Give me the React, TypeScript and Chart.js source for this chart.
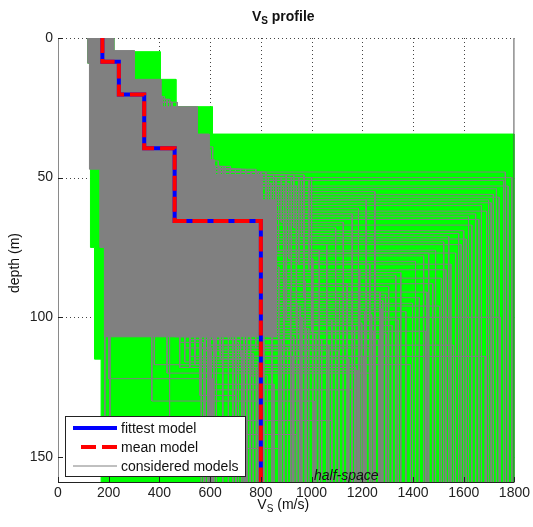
import { useEffect, useRef } from "react";
import { Chart, registerables } from "chart.js";

Chart.register(...registerables);

const FONT = "'Liberation Sans', Arial, Helvetica, sans-serif";

// ---- axes ----
const X_MIN = 0;
const X_MAX = 1800;
const X_STEP = 200;
const DEPTH_MIN = 0;
const DEPTH_MAX = 159;
const DEPTH_STEP = 50;

// ---- texts ----
const titleParts = [
  { t: "V", sub: false },
  { t: "S", sub: true },
  { t: " profile", sub: false },
];
const xTitleParts = [
  { t: "V", sub: false },
  { t: "S", sub: true },
  { t: " (m/s)", sub: false },
];
const yTitle = "depth (m)";
const legendLabels = ["fittest model", "mean model", "considered models"];
const halfSpaceLabel = "half-space";
const halfSpaceLabelVs = 1137;
const halfSpaceLabelDepth = 157;

// ---- fittest / mean models (layer velocities, layer bottom depths) ----
const fittestVs = [175, 240, 340, 460, 800];
const fittestDepths = [8.5, 20.2, 39.5, 65.5];
const meanVs = [175, 240, 340, 460, 800];
const meanDepths = [8.5, 20.2, 39.5, 65.5];

// ---- explored parameter envelope (green) ----
const envelopeVs = [117, 220, 220, 403, 403, 465, 465, 609, 609, 1800, 1800, 170, 170, 144, 144, 128, 128, 117];
const envelopeDepths = [0, 0, 4.9, 4.9, 14.8, 14.8, 24.6, 24.6, 34.4, 34.4, 159, 159, 115, 115, 75, 75, 9, 9];

// ---- densely overlapping considered models (grey core) ----
const coreVs = [117, 220, 220, 301, 301, 406, 406, 549, 549, 596, 596, 616, 616, 805, 805, 860, 860, 183, 183, 165, 165, 124, 124, 117];
const coreDepths = [0, 0, 4.5, 4.5, 14.8, 14.8, 24.6, 24.6, 34.4, 34.4, 43.6, 43.6, 49, 49, 58, 58, 107, 107, 75, 75, 47, 47, 9, 9];

// ---- considered models: [v1, d1, v2, d2, v3, d3, v4, d4, v5 (half-space)] ----
const consideredModels = [
  [150, 7, 220, 18, 330, 45, 560, 48, 1764],
  [170, 9, 250, 20, 360, 46, 620, 51, 1757],
  [140, 6, 200, 16, 300, 44, 480, 54, 1729],
  [190, 10, 270, 22, 420, 47, 700, 56, 1717],
  [160, 8, 230, 19, 340, 45, 540, 58, 1698],
  [180, 9, 260, 21, 380, 46, 660, 60, 1670],
  [135, 5, 190, 15, 280, 44, 450, 63, 1647],
  [200, 11, 280, 23, 450, 48, 760, 64, 1619],
  [155, 7, 215, 17, 320, 45, 520, 69, 1600],
  [175, 8, 245, 20, 370, 46, 640, 70, 1580],
  [145, 6, 205, 16, 310, 44, 500, 71, 1541],
  [185, 10, 265, 21, 400, 47, 720, 73, 1521],
  [165, 8, 235, 19, 350, 45, 600, 76, 1489],
  [195, 11, 285, 23, 470, 48, 800, 77, 1462],
  [150, 7, 210, 17, 300, 44, 470, 78, 1442],
  [170, 9, 250, 20, 390, 46, 680, 80, 1410],
  [140, 6, 195, 15, 290, 44, 430, 84, 1352],
  [180, 9, 255, 21, 410, 47, 740, 85, 1332],
  [160, 8, 225, 18, 330, 45, 580, 89, 1304],
  [190, 10, 275, 22, 440, 48, 790, 92, 1292],
  [155, 7, 220, 18, 340, 45, 610, 94, 1281],
  [175, 9, 240, 20, 360, 46, 650, 97, 1277],
  [145, 6, 200, 16, 300, 44, 520, 99, 1237],
  [185, 10, 260, 21, 420, 47, 780, 102, 1198],
  [165, 8, 230, 19, 350, 40, 470, 65, 800],
  [150, 7, 215, 17, 320, 42, 500, 66, 702],
  [175, 9, 245, 20, 370, 45, 540, 68, 734],
  [140, 6, 200, 16, 290, 44, 480, 72, 745],
  [185, 10, 265, 22, 400, 46, 600, 75, 812],
  [160, 8, 225, 18, 330, 45, 560, 79, 844],
  [195, 11, 280, 23, 450, 47, 700, 82, 871],
  [150, 7, 210, 17, 310, 44, 520, 86, 891],
  [170, 9, 250, 20, 380, 46, 640, 90, 918],
  [180, 10, 260, 21, 410, 47, 680, 95, 942],
  [145, 6, 205, 16, 300, 44, 500, 100, 962],
  [190, 10, 270, 22, 430, 48, 760, 104, 989],
  [160, 8, 230, 19, 340, 45, 580, 106, 1017],
  [175, 9, 240, 20, 360, 46, 620, 108, 1040],
  [155, 7, 220, 18, 330, 45, 600, 110, 1068],
  [185, 10, 255, 21, 400, 47, 700, 112, 1107],
  [165, 8, 235, 19, 350, 45, 540, 115, 1147],
  [150, 7, 215, 17, 310, 44, 480, 118, 1174],
  [160, 8, 230, 19, 300, 44, 380, 117, 1390],
  [145, 6, 200, 16, 260, 40, 430, 120, 1250],
  [175, 9, 240, 20, 320, 42, 590, 126, 1160],
  [150, 7, 210, 17, 280, 38, 370, 130, 1010],
  [185, 10, 260, 21, 340, 43, 205, 137, 1080],
  [170, 9, 235, 19, 300, 41, 440, 142, 940],
  [155, 7, 220, 18, 270, 36, 185, 147, 870],
  [165, 8, 225, 18, 310, 40, 600, 150, 740],
  [140, 6, 190, 15, 240, 34, 200, 122, 610],
  [180, 9, 250, 20, 330, 42, 580, 112, 600],
  [150, 7, 215, 17, 290, 39, 610, 108, 580],
  [170, 8, 240, 20, 350, 44, 632, 104, 590],
  [160, 8, 225, 18, 320, 42, 560, 128, 700],
  [175, 9, 245, 20, 370, 46, 640, 110, 1560],
  [150, 7, 210, 17, 310, 44, 520, 114, 1685],
  [185, 10, 265, 22, 420, 47, 700, 105, 1450],
  [160, 8, 230, 19, 340, 45, 580, 100, 1745],
  [170, 9, 250, 20, 390, 46, 660, 96, 1505],
  [155, 7, 220, 18, 330, 44, 520, 106, 565],
  [175, 9, 250, 21, 380, 45, 480, 109, 575],
  [145, 6, 205, 16, 300, 43, 540, 103, 595],
  [185, 10, 265, 22, 420, 46, 500, 111, 605],
  [165, 8, 235, 19, 350, 45, 460, 107, 615],
  [150, 7, 215, 17, 310, 44, 530, 105, 625],
  [170, 9, 245, 20, 360, 45, 560, 102, 735],
  [160, 8, 230, 19, 340, 44, 600, 110, 745],
  [180, 10, 255, 21, 390, 46, 640, 113, 770],
  [150, 7, 210, 17, 300, 44, 500, 116, 790],
  [160, 8, 230, 19, 350, 48, 820, 55, 1250],
  [175, 9, 245, 20, 370, 50, 860, 58, 1215],
  [150, 7, 215, 17, 320, 49, 900, 61, 1185],
  [185, 10, 265, 22, 420, 52, 840, 63, 1160],
  [165, 8, 235, 19, 340, 50, 880, 66, 1125],
  [145, 6, 205, 16, 300, 49, 930, 68, 1095],
  [180, 9, 255, 21, 400, 51, 960, 71, 1250],
  [155, 7, 220, 18, 330, 50, 830, 74, 1060],
  [170, 9, 250, 20, 380, 53, 870, 76, 1030],
  [190, 10, 270, 22, 430, 52, 910, 79, 1005],
  [160, 8, 225, 18, 340, 50, 950, 81, 1230],
  [175, 9, 240, 20, 360, 51, 990, 83, 1190],
  [150, 7, 210, 17, 310, 49, 850, 87, 975],
  [185, 10, 260, 21, 410, 53, 890, 88, 1140],
  [165, 8, 235, 19, 350, 50, 920, 91, 1270],
  [145, 6, 200, 16, 300, 49, 970, 93, 1110],
  [180, 10, 255, 21, 390, 52, 820, 96, 955],
  [155, 7, 220, 18, 330, 50, 860, 98, 1210],
  [170, 9, 245, 20, 370, 51, 900, 101, 1080],
  [190, 10, 275, 22, 440, 53, 940, 103, 1170],
  [160, 8, 230, 19, 350, 50, 1000, 105, 1245],
  [175, 9, 250, 20, 380, 52, 830, 107, 930],
  [150, 7, 215, 17, 320, 46, 600, 50, 1790],
  [165, 8, 235, 19, 350, 47, 680, 53, 1775],
  [180, 9, 255, 21, 390, 48, 740, 57, 1740],
  [145, 6, 205, 16, 300, 45, 560, 59, 1708],
  [190, 10, 270, 22, 430, 48, 780, 62, 1690],
  [160, 8, 225, 18, 340, 46, 620, 65, 1660],
  [175, 9, 245, 20, 370, 47, 700, 67, 1632],
  [150, 7, 210, 17, 310, 45, 540, 72, 1610],
  [185, 10, 265, 22, 420, 48, 760, 74, 1590],
  [155, 7, 220, 18, 330, 46, 600, 77, 1568],
  [170, 9, 250, 20, 380, 47, 720, 81, 1550],
  [145, 6, 200, 16, 300, 45, 520, 83, 1530],
  [190, 10, 275, 22, 440, 48, 800, 86, 1512],
  [160, 8, 230, 19, 350, 46, 640, 88, 1478],
  [175, 9, 240, 20, 360, 47, 680, 91, 1455],
  [150, 7, 215, 17, 320, 45, 560, 93, 1425],
  [185, 10, 260, 21, 410, 48, 740, 95, 1398],
  [165, 8, 235, 19, 350, 46, 600, 98, 1372],
  [180, 9, 255, 21, 390, 47, 700, 101, 1342],
  [155, 7, 220, 18, 330, 46, 580, 103, 1318],
  [170, 9, 245, 20, 370, 47, 660, 106, 1296],
  [145, 6, 205, 16, 300, 45, 520, 108, 1265],
  [190, 10, 270, 22, 430, 48, 780, 111, 1228],
  [160, 8, 230, 19, 340, 46, 620, 114, 1205],
  [175, 9, 250, 20, 380, 47, 700, 119, 1180],
  [155, 7, 220, 18, 330, 46, 560, 101, 650],
  [170, 9, 245, 20, 370, 47, 620, 104, 672],
  [150, 7, 210, 17, 310, 45, 500, 107, 690],
  [185, 10, 265, 22, 420, 48, 700, 109, 712],
  [160, 8, 230, 19, 340, 46, 580, 112, 725],
  [175, 9, 240, 20, 360, 47, 640, 115, 758],
  [145, 6, 200, 16, 300, 45, 520, 118, 782],
  [190, 10, 275, 22, 440, 48, 760, 121, 826],
  [165, 8, 235, 19, 350, 46, 600, 124, 852],
  [180, 9, 255, 21, 390, 47, 680, 108, 880],
  [155, 7, 220, 18, 330, 46, 560, 111, 905],
  [170, 9, 250, 20, 380, 47, 720, 114, 925],
  [150, 7, 215, 17, 320, 45, 540, 117, 952],
  [185, 10, 260, 21, 410, 48, 740, 104, 980],
];

// ---- colours ----
const GREEN = "#00ff00";
const GREY = "#808080";
const BLUE = "#0000ff";
const RED = "#ff0000";

type Pt = { x: number; y: number };

function profile(vs: number[], depths: number[]): Pt[] {
  const pts: Pt[] = [];
  let top = DEPTH_MIN;
  vs.forEach((v, i) => {
    const bottom = i < depths.length ? depths[i] : DEPTH_MAX + 3;
    pts.push({ x: v, y: top }, { x: v, y: bottom });
    top = bottom;
  });
  return pts;
}

function polygon(vs: number[], depths: number[]): Pt[] {
  const pts = vs.map((v, i) => ({ x: v, y: depths[i] }));
  pts.push({ x: vs[0], y: depths[0] });
  return pts;
}

function modelRow(row: number[]) {
  const vs: number[] = [];
  const ds: number[] = [];
  row.forEach((val, i) => (i % 2 === 0 ? vs : ds).push(val));
  return profile(vs, ds);
}

function drawParts(
  ctx: CanvasRenderingContext2D,
  cx: number,
  cy: number,
  parts: { t: string; sub: boolean }[],
  size: number,
  weight: string
) {
  const subSize = Math.round(size * 0.72);
  const widths = parts.map((p) => {
    ctx.font = `${weight} ${p.sub ? subSize : size}px ${FONT}`;
    return ctx.measureText(p.t).width;
  });
  const total = widths.reduce((a, b) => a + b, 0);
  let x = cx - total / 2;
  ctx.textBaseline = "middle";
  ctx.textAlign = "left";
  parts.forEach((p, i) => {
    ctx.font = `${weight} ${p.sub ? subSize : size}px ${FONT}`;
    ctx.fillText(p.t, x, p.sub ? cy + size * 0.32 : cy);
    x += widths[i];
  });
}

const decorPlugin = {
  id: "decor",
  beforeDatasetsDraw(chart: any) {
    const { ctx, chartArea: a, scales } = chart;
    const xs = scales.x;
    const ys = scales.y;
    ctx.save();
    ctx.strokeStyle = "#444";
    ctx.lineWidth = 1;
    ctx.setLineDash([1, 3]);
    xs.ticks.forEach((t: any) => {
      const px = Math.round(xs.getPixelForValue(t.value)) + 0.5;
      if (px <= a.left + 1 || px >= a.right - 1) return;
      ctx.beginPath();
      ctx.moveTo(px, a.top);
      ctx.lineTo(px, a.bottom);
      ctx.stroke();
    });
    ys.ticks.forEach((t: any) => {
      const py = Math.round(ys.getPixelForValue(t.value)) + 0.5;
      ctx.beginPath();
      ctx.moveTo(a.left, py);
      ctx.lineTo(a.right, py);
      ctx.stroke();
    });
    ctx.restore();
  },
  afterDatasetsDraw(chart: any) {
    const { ctx, chartArea: a, scales, data } = chart;
    const xs = scales.x;
    const ys = scales.y;
    ctx.save();
    // borders
    ctx.setLineDash([]);
    ctx.lineWidth = 1;
    ctx.strokeStyle = "#8a8a8a";
    ctx.beginPath();
    ctx.moveTo(a.left + 0.5, a.top);
    ctx.lineTo(a.left + 0.5, a.bottom);
    ctx.stroke();
    ctx.strokeStyle = "#222";
    ctx.beginPath();
    ctx.moveTo(a.left, a.bottom + 0.5);
    ctx.lineTo(a.right, a.bottom + 0.5);
    ctx.stroke();
    ctx.strokeStyle = "#555";
    ctx.beginPath();
    ctx.moveTo(a.right - 0.5, a.top);
    ctx.lineTo(a.right - 0.5, a.bottom);
    ctx.stroke();
    // inward ticks
    ctx.strokeStyle = "#222";
    xs.ticks.forEach((t: any) => {
      const px = Math.round(xs.getPixelForValue(t.value)) + 0.5;
      ctx.beginPath();
      ctx.moveTo(px, a.bottom);
      ctx.lineTo(px, a.bottom - 5);
      ctx.stroke();
    });
    ys.ticks.forEach((t: any) => {
      const py = Math.round(ys.getPixelForValue(t.value)) + 0.5;
      ctx.beginPath();
      ctx.moveTo(a.left, py);
      ctx.lineTo(a.left + 5, py);
      ctx.stroke();
    });
    // half-space label
    ctx.fillStyle = "#111";
    ctx.font = `italic 14px ${FONT}`;
    ctx.textAlign = "center";
    ctx.textBaseline = "middle";
    ctx.fillText(halfSpaceLabel, xs.getPixelForValue(halfSpaceLabelVs), ys.getPixelForValue(halfSpaceLabelDepth));
    // legend
    const lx = Math.round(a.left + 7);
    const ly = Math.round(a.bottom - 66);
    const lw = 180;
    const lh = 60;
    ctx.fillStyle = "#fff";
    ctx.fillRect(lx, ly, lw, lh);
    ctx.strokeStyle = "#222";
    ctx.lineWidth = 1;
    ctx.strokeRect(lx + 0.5, ly + 0.5, lw, lh);
    const rows = [ly + 12, ly + 31, ly + 50];
    const styles = [data.datasets[0], data.datasets[1], data.datasets[2]];
    styles.forEach((ds: any, i: number) => {
      ctx.strokeStyle = ds.borderColor;
      ctx.lineWidth = ds.borderWidth;
      ctx.setLineDash(ds.borderDash || []);
      ctx.beginPath();
      const x0 = i === 1 ? lx + 16 : lx + 8;
      ctx.moveTo(x0, rows[i]);
      ctx.lineTo(lx + 52, rows[i]);
      ctx.stroke();
      ctx.setLineDash([]);
      ctx.fillStyle = "#111";
      ctx.font = `14px ${FONT}`;
      ctx.textAlign = "left";
      ctx.textBaseline = "middle";
      ctx.fillText(legendLabels[i], lx + 56, rows[i] + 1);
    });
    // titles
    const cx = (a.left + a.right) / 2;
    ctx.fillStyle = "#111";
    drawParts(ctx, cx - 3, 17, titleParts, 14, "bold");
    drawParts(ctx, cx - 3, 505, xTitleParts, 14, "normal");
    ctx.translate(15, 263);
    ctx.rotate(-Math.PI / 2);
    ctx.font = `14px ${FONT}`;
    ctx.textAlign = "center";
    ctx.textBaseline = "middle";
    ctx.fillText(yTitle, 0, 0);
    ctx.restore();
  },
};

export default function App() {
  const ref = useRef<HTMLCanvasElement | null>(null);

  useEffect(() => {
    if (!ref.current) return;
    const datasets: any[] = [
      {
        label: legendLabels[0],
        data: profile(fittestVs, fittestDepths),
        borderColor: BLUE,
        borderWidth: 4,
        order: 1,
      },
      {
        label: legendLabels[1],
        data: profile(meanVs, meanDepths),
        borderColor: RED,
        borderWidth: 4,
        borderDash: [15, 6],
        order: 0,
      },
      ...consideredModels.map((row) => ({
        label: legendLabels[2],
        data: modelRow(row),
        borderColor: GREY,
        borderWidth: 1,
        order: 10,
      })),
      {
        label: "core",
        data: polygon(coreVs, coreDepths),
        borderColor: GREY,
        backgroundColor: GREY,
        borderWidth: 1,
        fill: "shape",
        order: 20,
      },
      {
        label: "envelope",
        data: polygon(envelopeVs, envelopeDepths),
        borderColor: GREEN,
        backgroundColor: GREEN,
        borderWidth: 1,
        fill: "shape",
        order: 30,
      },
    ];
    datasets.forEach((d) => {
      d.pointRadius = 0;
      d.pointHoverRadius = 0;
      d.clip = 0;
      d.borderJoinStyle = "miter";
      if (d.fill === undefined) d.fill = false;
    });

    const tickFont = { family: FONT, size: 14 };
    const chart = new Chart(ref.current, {
      type: "line",
      data: { datasets },
      options: {
        animation: false,
        responsive: false,
        devicePixelRatio: 1,
        events: [],
        layout: { padding: { top: 38, right: 17, left: 0, bottom: 0 } },
        plugins: {
          legend: { display: false },
          title: { display: false },
          tooltip: { enabled: false },
        },
        scales: {
          x: {
            type: "linear",
            min: X_MIN,
            max: X_MAX,
            grid: { display: false, drawTicks: false, tickLength: 0 },
            border: { display: false },
            ticks: {
              stepSize: X_STEP,
              font: tickFont,
              color: "#222",
              padding: 3,
              maxRotation: 0,
              autoSkip: false,
              callback: (v: any) => String(v),
            },
            afterFit: (s: any) => {
              s.height = 45;
            },
          },
          y: {
            type: "linear",
            min: DEPTH_MIN,
            max: DEPTH_MAX,
            reverse: true,
            grid: { display: false, drawTicks: false, tickLength: 0 },
            border: { display: false },
            ticks: {
              stepSize: DEPTH_STEP,
              includeBounds: false,
              font: tickFont,
              color: "#222",
              padding: 5,
              callback: (v: any) => String(v),
            },
            afterFit: (s: any) => {
              s.width = 58;
            },
          },
        },
      },
      plugins: [decorPlugin],
    });
    return () => chart.destroy();
  }, []);

  return (
    <div style={{ position: "absolute", left: 0, top: 0, width: 533, height: 527, background: "#fff" }}>
      <canvas ref={ref} width={533} height={527} />
    </div>
  );
}
